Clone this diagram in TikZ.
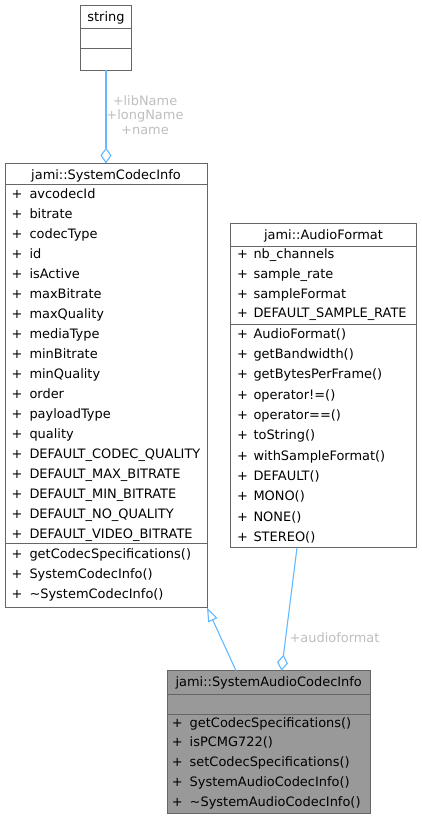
\documentclass[tikz,border=0pt]{standalone}
\usepackage{fontspec}
\setmainfont{DejaVu Sans}
\usetikzlibrary{arrows.meta}
\definecolor{edgeblue}{HTML}{63B8FF}
\definecolor{boxline}{HTML}{666666}
\definecolor{lblgray}{HTML}{BEBEBE}
\definecolor{hlfill}{HTML}{999999}
\begin{document}
\begin{tikzpicture}[x=1pt,y=-1pt,
  umlbox/.style={draw=boxline, line width=1pt, inner sep=0pt, fill=white},
  sepline/.style={draw=boxline, line width=1pt},
  txt/.style={inner sep=0pt, font=\fontsize{12.95}{15}\selectfont},
  rowtxt/.style={txt, anchor=base west},
  ttltxt/.style={txt, anchor=base},
  conn/.style={draw=edgeblue, line width=1.1pt},
  lbl/.style={txt, text=lblgray, align=center}
]
\useasboundingbox (0,0) rectangle (421,821);

% ---------- string ----------
\node[umlbox, minimum width=50.5pt, minimum height=64.5pt] (str) at (106,38) {};
\draw[sepline] (81,29) -- (131,29);
\draw[sepline] (81,48.5) -- (131,48.5);
\node[ttltxt] (strT) at (106,22) {string};

% ---------- jami::SystemCodecInfo ----------
\node[umlbox, minimum width=202pt, minimum height=444pt] (sci) at (106,385.5) {};
\draw[sepline] (5,184.5) -- (207,184.5);
\draw[sepline] (5,543.5) -- (207,543.5);
\node[ttltxt] (sciT) at (106,179) {jami::SystemCodecInfo};
\foreach \n [count=\i] in {avcodecId,bitrate,codecType,id,isActive,maxBitrate,maxQuality,mediaType,minBitrate,minQuality,order,payloadType,quality,DEFAULT\_CODEC\_QUALITY,DEFAULT\_MAX\_BITRATE,DEFAULT\_MIN\_BITRATE,DEFAULT\_NO\_QUALITY,DEFAULT\_VIDEO\_BITRATE}{
  \node[rowtxt] (sciP\i) at (11.4,{198.5+20*(\i-1)}) {+};
  \node[rowtxt] (sciA\i) at (29.3,{198.5+20*(\i-1)}) {\n};
}
\foreach \n [count=\i] in {getCodecSpecifications(),SystemCodecInfo(),\textasciitilde SystemCodecInfo()}{
  \node[rowtxt] (sciQ\i) at (11.4,{558.5+20*(\i-1)}) {+};
  \node[rowtxt] (sciM\i) at (29.3,{558.5+20*(\i-1)}) {\n};
}

% ---------- jami::AudioFormat ----------
\node[umlbox, minimum width=185.5pt, minimum height=324pt] (af) at (323.5,385.5) {};
\draw[sepline] (231,246.5) -- (416,246.5);
\draw[sepline] (231,324) -- (416,324);
\node[ttltxt] (afT) at (323.5,239.5) {jami::AudioFormat};
\foreach \n [count=\i] in {nb\_channels,sample\_rate,sampleFormat,DEFAULT\_SAMPLE\_RATE}{
  \node[rowtxt] (afP\i) at (237,{258.8+19.6*(\i-1)}) {+};
  \node[rowtxt] (afA\i) at (253.3,{258.8+19.6*(\i-1)}) {\n};
}
\foreach \n [count=\i] in {AudioFormat(),getBandwidth(),getBytesPerFrame(),operator!=(),operator==(),toString(),withSampleFormat(),DEFAULT(),MONO(),NONE(),STEREO()}{
  \node[rowtxt] (afQ\i) at (237,{338.3+20.3*(\i-1)}) {+};
  \node[rowtxt] (afM\i) at (253.3,{338.3+20.3*(\i-1)}) {\n};
}

% ---------- jami::SystemAudioCodecInfo ----------
\node[umlbox, fill=hlfill, minimum width=203pt, minimum height=142.5pt] (saci) at (268.7,742) {};
\draw[sepline] (167.2,694.3) -- (370.2,694.3);
\draw[sepline] (167.2,714.3) -- (370.2,714.3);
\node[ttltxt] (saciT) at (268.7,686.5) {jami::SystemAudioCodecInfo};
\foreach \n [count=\i] in {getCodecSpecifications(),isPCMG722(),setCodecSpecifications(),SystemAudioCodecInfo(),\textasciitilde SystemAudioCodecInfo()}{
  \node[rowtxt] (saciQ\i) at (171.7,{727+19.8*(\i-1)}) {+};
  \node[rowtxt] (saciM\i) at (189.5,{727+19.8*(\i-1)}) {\n};
}

% ---------- connectors ----------
\coordinate (strB) at (106,70.3);
\coordinate (sciTop) at (106,163.5);
\draw[conn, -{Diamond[open, fill=white, length=16pt, width=11pt]}] (strB) -- (sciTop);
\node[lbl] (lblStr) at (145,115) {+libName\\[-0.3pt]+longName\\[-0.3pt]+name};

\coordinate (saciIn) at (236,670.7);
\coordinate (sciBot) at (207,607.5);
\draw[conn, -{Triangle[open, fill=white, length=14pt, width=10pt]}] (saciIn) -- (sciBot);

\coordinate (afB) at (297,547.7);
\coordinate (saciAg) at (281.5,670.7);
\draw[conn, -{Diamond[open, fill=white, length=16pt, width=11pt]}] (afB) -- (saciAg);
\node[lbl] (lblAf) at (334.5,637.5) {+audioformat};
\end{tikzpicture}
\end{document}
